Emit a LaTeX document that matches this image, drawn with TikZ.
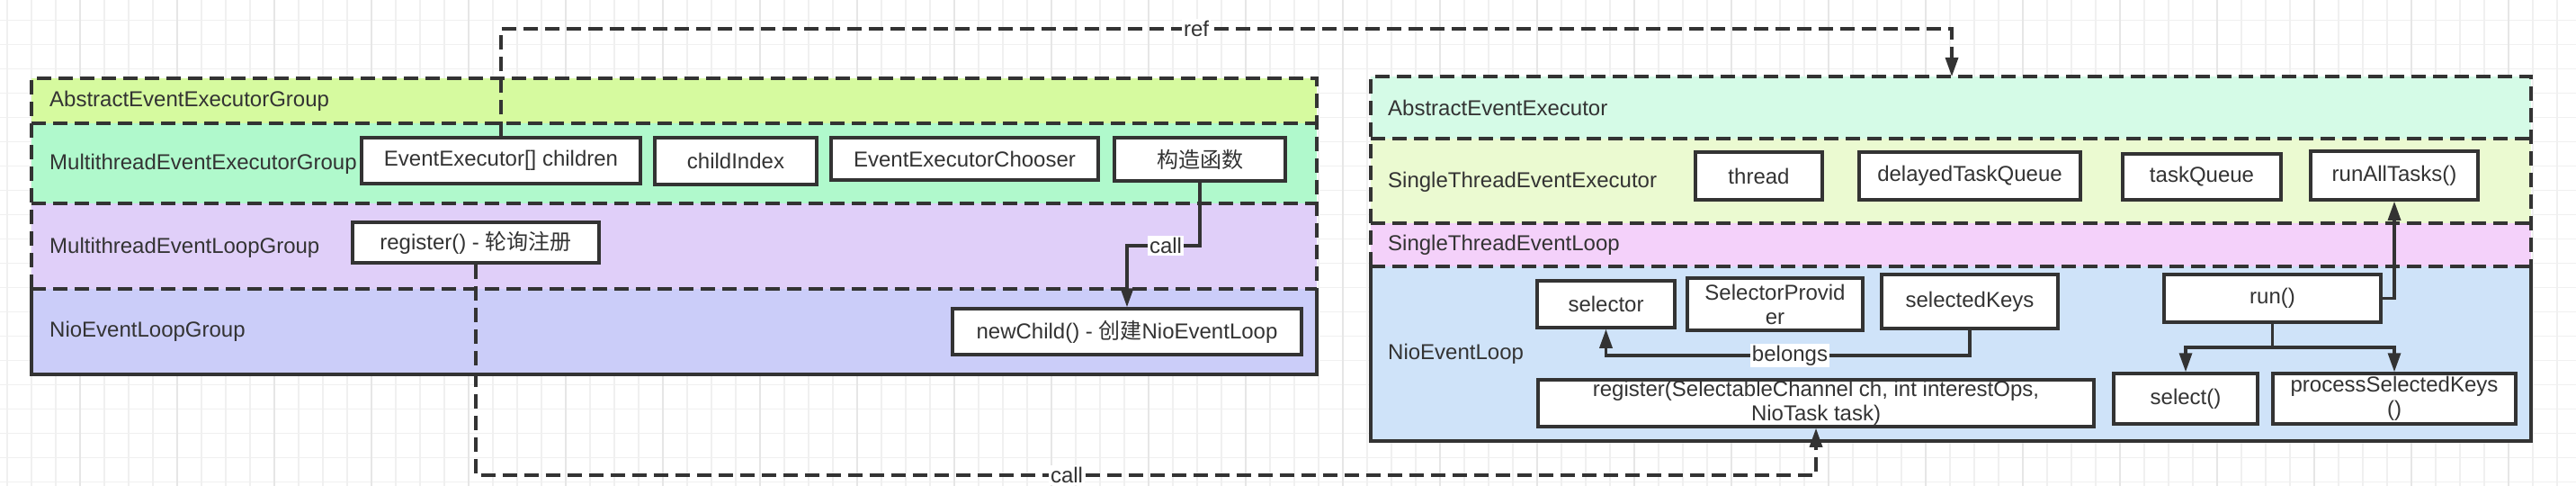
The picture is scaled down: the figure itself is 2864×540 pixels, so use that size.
\documentclass[tikz,border=0pt]{standalone}
\usepackage{fontspec}
\setmainfont{Liberation Sans}
\newfontfamily\cjk{Noto Sans CJK SC}
\usetikzlibrary{arrows.meta}
\definecolor{dk}{HTML}{333333}
\definecolor{gmin}{HTML}{F0F0F0}
\definecolor{gmaj}{HTML}{E6E6E6}
\definecolor{cAEG}{HTML}{D6FA9F}
\definecolor{cMEEG}{HTML}{B0F9CC}
\definecolor{cMELG}{HTML}{E0CFF9}
\definecolor{cNELG}{HTML}{CBCDF9}
\definecolor{cAEE}{HTML}{D5FBE7}
\definecolor{cSTEE}{HTML}{EBFAD1}
\definecolor{cSTEL}{HTML}{F4D1FA}
\definecolor{cNEL}{HTML}{CFE3F9}
\newcommand\fs{\fontsize{24}{27}\selectfont}
\tikzset{
  gridminor/.style={draw=gmin, line width=1.5pt},
  gridmajor/.style={draw=gmaj, line width=1.5pt},
  bd/.style={draw=dk, line width=3.5pt},
  dsh/.style={dash pattern=on 16pt off 8pt},
  box/.style={draw=dk, line width=3.5pt, fill=white, inner sep=0pt, font=\fs, text=dk, align=center},
  lbl/.style={anchor=west, inner sep=0pt, font=\fs, text=dk},
  conn/.style={draw=dk, line width=3.2pt},
  arr/.style={-{Triangle[length=21pt,width=14pt]}},
  elabel/.style={fill=white, inner sep=2pt, font=\fs, text=dk}
}
\begin{document}
\begin{tikzpicture}[x=1pt,y=-1pt]
\useasboundingbox (0,0) rectangle (2864,540);
\fill[white] (0,0) rectangle (2864,540);
% grid
\foreach \k in {0,...,105} {\pgfmathsetmacro\gx{8+27*\k}\draw[gridminor] (\gx,0) -- (\gx,540);}
\foreach \k in {0,...,19} {\pgfmathsetmacro\gy{22.5+27*\k}\draw[gridminor] (0,\gy) -- (2864,\gy);}
\foreach \m in {0,...,25} {\pgfmathsetmacro\gx{89+108*\m}\draw[gridmajor] (\gx,0) -- (\gx,540);}

% left group bands
\fill[cAEG] (35,87) rectangle (1464,137);
\fill[cMEEG] (35,137) rectangle (1464,226);
\fill[cMELG] (35,226) rectangle (1464,321);
\fill[cNELG] (35,321) rectangle (1464,416);
\draw[bd,dsh] (35,321) -- (35,87) -- (1464,87) -- (1464,321);
\draw[bd,dsh] (35,137) -- (1464,137);
\draw[bd,dsh] (35,226) -- (1464,226);
\draw[bd,dsh] (35,321) -- (1464,321);
\draw[bd] (35,321) -- (35,416) -- (1464,416) -- (1464,321);

% right group bands
\fill[cAEE] (1524,85) rectangle (2814,154);
\fill[cSTEE] (1524,154) rectangle (2814,248);
\fill[cSTEL] (1524,248) rectangle (2814,296);
\fill[cNEL] (1524,296) rectangle (2814,490);
\draw[bd,dsh] (1524,296) -- (1524,85) -- (2814,85) -- (2814,296);
\draw[bd,dsh] (1524,154) -- (2814,154);
\draw[bd,dsh] (1524,248) -- (2814,248);
\draw[bd,dsh] (1524,296) -- (2814,296);
\draw[bd] (1524,296) -- (1524,490) -- (2814,490) -- (2814,296);

% band labels
\node[lbl] (lAEG) at (55,112) {AbstractEventExecutorGroup};
\node[lbl] (lMEEG) at (55,182) {MultithreadEventExecutorGroup};
\node[lbl] (lMELG) at (55,275) {MultithreadEventLoopGroup};
\node[lbl] (lNELG) at (55,368) {NioEventLoopGroup};
\node[lbl] (lAEE) at (1543,120) {AbstractEventExecutor};
\node[lbl] (lSTEE) at (1543,202) {SingleThreadEventExecutor};
\node[lbl] (lSTEL) at (1543,272) {SingleThreadEventLoop};
\node[lbl] (lNEL) at (1543,393) {NioEventLoop};

% left boxes
\node[box, minimum width=310pt, minimum height=51pt] (children) at (557,178.5) {EventExecutor[] children};
\node[box, minimum width=180pt, minimum height=52pt] (childIndex) at (818,179) {childIndex};
\node[box, minimum width=297pt, minimum height=47pt] (chooser) at (1072.5,176.5) {EventExecutorChooser};
\node[box, minimum width=190pt, minimum height=48pt] (ctor) at (1334,177) {\cjk 构造函数};
\node[box, minimum width=274pt, minimum height=45pt] (regL) at (529,269.5) {register() - {\cjk 轮询注册}};
\node[box, minimum width=388pt, minimum height=51pt] (newChild) at (1253,368.5) {newChild() - {\cjk 创建}NioEventLoop};

% right boxes
\node[box, minimum width=141pt, minimum height=53pt] (thread) at (1955.5,195.5) {thread};
\node[box, minimum width=246pt, minimum height=53pt] (delayed) at (2190,195.5) {delayedTaskQueue};
\node[box, minimum width=176pt, minimum height=51pt] (taskQueue) at (2448,196.5) {taskQueue};
\node[box, minimum width=186pt, minimum height=54pt] (runAll) at (2662,195) {runAllTasks()};
\node[box, minimum width=153pt, minimum height=52pt] (selector) at (1785.5,338) {selector};
\node[box, minimum width=195pt, minimum height=58pt] (selProv) at (1973.5,338) {SelectorProvid\\er};
\node[box, minimum width=196pt, minimum height=60pt] (selKeys) at (2190,335) {selectedKeys};
\node[box, minimum width=241pt, minimum height=53pt] (run) at (2526.5,331.5) {run()};
\node[box, minimum width=160pt, minimum height=56pt] (select) at (2430,443) {select()};
\node[box, minimum width=270pt, minimum height=56pt] (procKeys) at (2662,443) {processSelectedKeys\\()};
\node[box, minimum width=618pt, minimum height=52pt] (regR) at (2019,448) {register(SelectableChannel ch, int interestOps,\\NioTask task)};

% coordinates
\coordinate (refc) at (2170,32);
\coordinate (reftop) at (2170,85);
\coordinate (cb) at (2019,528);
\coordinate (c1) at (1253,273);
\coordinate (b1) at (1785.5,395);
\coordinate (rb) at (2526.5,386);

% connectors
\draw[conn,dsh,arr] (children.north) |- (refc) -- (reftop);
\node[elabel] (refl) at (1330,32) {ref};
\draw[conn,dsh,arr] (regL.south) |- (cb) -- (regR.south);
\node[elabel] (calll) at (1186,528) {call};
\draw[conn,arr] (ctor.south) |- (c1) -- (newChild.north);
\node[elabel] (call2) at (1296,273) {call};
\draw[conn,arr] (selKeys.south) |- (b1) -- (selector.south);
\node[elabel] (bel) at (1990,395) {belongs};
\draw[conn] (run.south) -- (rb);
\draw[conn,arr] (rb) -| (select.north);
\draw[conn,arr] (rb) -| (procKeys.north);
\draw[conn,arr] (run.east) -| (runAll.south);
\end{tikzpicture}
\end{document}
